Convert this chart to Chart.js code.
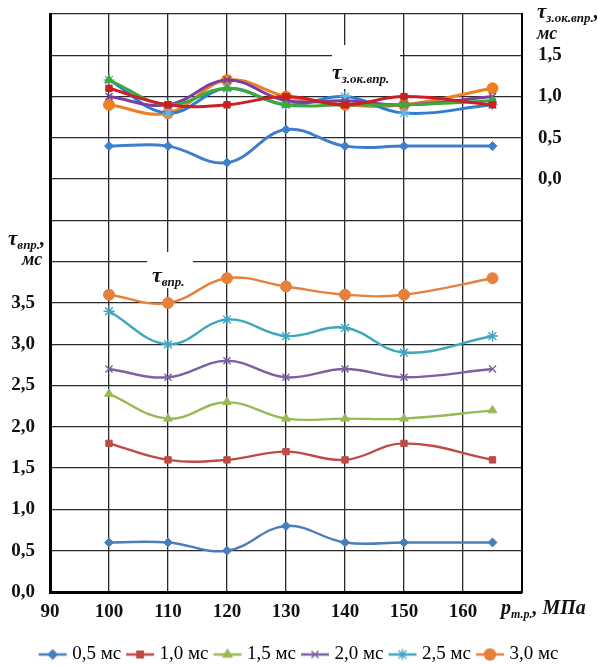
<!DOCTYPE html>
<html>
<head>
<meta charset="utf-8">
<script src="https://cdn.jsdelivr.net/npm/chart.js@4.4.1/dist/chart.umd.min.js"></script>
<style>
  html, body { margin: 0; padding: 0; background: #fff; }
  #wrap { width: 597px; height: 665px; position: relative; }
</style>
</head>
<body>
<div id="wrap"><canvas id="chart"></canvas></div>
<script>
/* ── Data ────────────────────────────────────────────────── */
const pressure    = [100, 110, 120, 130, 140, 150, 165];   // p т.р., МПа
const seriesNames = ['0,5 мс', '1,0 мс', '1,5 мс', '2,0 мс', '2,5 мс', '3,0 мс'];

/* τ впр. (lower panel, left axis) */
const vpr05 = [0.6, 0.6, 0.5, 0.8, 0.6, 0.6, 0.6];
const vpr10 = [1.8, 1.6, 1.6, 1.7, 1.6, 1.8, 1.6];
const vpr15 = [2.4, 2.1, 2.3, 2.1, 2.1, 2.1, 2.2];
const vpr20 = [2.7, 2.6, 2.8, 2.6, 2.7, 2.6, 2.7];
const vpr25 = [3.4, 3.0, 3.3, 3.1, 3.2, 2.9, 3.1];
const vpr30 = [3.6, 3.5, 3.8, 3.7, 3.6, 3.6, 3.8];

/* τ з.ок.впр. (upper panel, right axis) */
const zok05 = [0.4, 0.4, 0.2, 0.6, 0.4, 0.4, 0.4];
const zok10 = [1.1, 0.9, 0.9, 1.0, 0.9, 1.0, 0.9];
const zok15 = [1.2, 0.9, 1.1, 0.9, 0.9, 0.9, 0.95];
const zok20 = [1.0, 0.9, 1.2, 0.95, 0.95, 0.9, 1.0];
const zok25 = [1.2, 0.8, 1.1, 0.9, 1.0, 0.8, 0.9];
const zok30 = [0.9, 0.8, 1.2, 1.0, 0.9, 0.9, 1.1];

const xTicks     = [90, 100, 110, 120, 130, 140, 150, 160];
const leftTicks  = [0, 0.5, 1.0, 1.5, 2.0, 2.5, 3.0, 3.5];
const rightTicks = [0, 0.5, 1.0, 1.5];

/* ── Styling ─────────────────────────────────────────────── */
const SERIF = '"Liberation Serif", "Times New Roman", serif';
const markers  = ['rectRot', 'rect', 'triangle', 'crossRot', 'star', 'circle'];
const radii    = [4.5, 4.5, 5, 5, 5.5, 5.5];
const lowColors  = ['#4A7EBB', '#BE4B48', '#98B954', '#7D60A0', '#3FA6BF', '#E5803D'];
const topColors  = ['#3F7ECB', '#CC1E24', '#3BAA3B', '#7A3FA2', '#2F7DD2', '#F07E22'];
const topMarkers = ['#3F7ECB', '#CC1E24', '#3BAA3B', '#7A3FA2', '#62B6E8', '#F07E22'];

const fmt = v => v.toFixed(1).replace('.', ',');
const pts = arr => pressure.map((x, i) => ({ x, y: arr[i] }));

const lowSeries = [vpr05, vpr10, vpr15, vpr20, vpr25, vpr30];
const topSeries = [zok05, zok10, zok15, zok20, zok25, zok30];

const datasets = [];
lowSeries.forEach((arr, i) => {
  datasets.push({
    label: seriesNames[i],
    data: pts(arr),
    yAxisID: 'y',
    borderColor: lowColors[i],
    backgroundColor: lowColors[i],
    borderWidth: 2.4,
    pointStyle: markers[i],
    pointRadius: radii[i],
    pointBorderWidth: (i === 3 || i === 4) ? 1.4 : 1,
    pointBackgroundColor: lowColors[i],
    pointBorderColor: lowColors[i],
    tension: 0.4
  });
});
topSeries.forEach((arr, i) => {
  datasets.push({
    label: 'top ' + seriesNames[i],
    data: pts(arr),
    yAxisID: 'y2',
    borderColor: topColors[i],
    backgroundColor: topMarkers[i],
    borderWidth: 3,
    pointStyle: markers[i],
    pointRadius: radii[i],
    pointBorderWidth: (i === 3 || i === 4) ? 1.4 : 1,
    pointBackgroundColor: topMarkers[i],
    pointBorderColor: topMarkers[i],
    tension: 0.4
  });
});

/* ── Legend icons: short line with the marker in the middle ── */
function legendIcon(i) {
  const c = document.createElement('canvas');
  c.width = 40; c.height = 14;
  const g = c.getContext('2d');
  g.strokeStyle = lowColors[i];
  g.lineWidth = 2.5;
  g.beginPath(); g.moveTo(8, 7); g.lineTo(36, 7); g.stroke();
  g.fillStyle = lowColors[i];
  g.lineWidth = 1.4;
  Chart.helpers.drawPoint(g, { pointStyle: markers[i], radius: radii[i], borderWidth: 1.4, rotation: 0 }, 22, 7);
  return c;
}
const icons = seriesNames.map((_, i) => legendIcon(i));

/* ── Text with subscript ─────────────────────────────────── */
function drawSub(ctx, x, y, main, sub, tail, big, small) {
  ctx.font = `italic bold ${big}px ${SERIF}`;
  ctx.fillText(main, x, y);
  let w = ctx.measureText(main).width;
  ctx.font = `italic bold ${small}px ${SERIF}`;
  ctx.fillText(sub, x + w, y + big * 0.2);
  w += ctx.measureText(sub).width;
  if (tail) {
    ctx.font = `italic bold ${big}px ${SERIF}`;
    ctx.fillText(tail, x + w, y);
    w += ctx.measureText(tail).width;
  }
  return w;
}

const labelsPlugin = {
  id: 'labels',
  beforeDatasetsDraw(chart) {
    const ctx = chart.ctx;
    ctx.save();
    ctx.fillStyle = '#fff';
    ctx.fillRect(332, 45, 68, 44);
    ctx.fillRect(147, 252, 46, 36);
    ctx.fillStyle = '#111';
    ctx.textBaseline = 'alphabetic';
    drawSub(ctx, 332, 79, 'τ', 'з.ок.впр.', '', 22, 13);
    drawSub(ctx, 152, 282, 'τ', 'впр.', '', 22, 13);
    ctx.restore();
  },
  afterDraw(chart) {
    const ctx = chart.ctx;
    ctx.save();
    ctx.fillStyle = '#111';
    ctx.textBaseline = 'alphabetic';
    // left axis title
    drawSub(ctx, 8, 245, 'τ', 'впр.', ',', 21, 13);
    ctx.font = `italic bold 18px ${SERIF}`;
    ctx.fillText('мс', 22, 265);
    // right axis title
    drawSub(ctx, 537, 18, 'τ', 'з.ок.впр.', ',', 21, 13);
    ctx.font = `italic bold 18px ${SERIF}`;
    ctx.fillText('мс', 537, 39);
    // x axis title
    drawSub(ctx, 501, 614, 'p', 'т.р.', ', МПа', 20, 12);
    ctx.restore();
  }
};

/* ── Chart ───────────────────────────────────────────────── */
const tickFont = { family: SERIF, size: 19, weight: 'bold' };

new Chart(document.getElementById('chart'), {
  type: 'line',
  data: { datasets },
  options: {
    responsive: true,
    maintainAspectRatio: false,
    animation: false,
    layout: { padding: { top: 14, bottom: -9, left: 0, right: 0 } },
    plugins: {
      legend: {
        position: 'bottom',
        labels: {
          usePointStyle: true,
          pointStyleWidth: 24,
          padding: 5,
          color: '#222',
          font: { family: SERIF, size: 19 },
          generateLabels: () => seriesNames.map((name, i) => ({
            text: name,
            pointStyle: icons[i],
            fillStyle: lowColors[i],
            strokeStyle: lowColors[i],
            lineWidth: 0,
            hidden: false,
            datasetIndex: i
          }))
        }
      },
      tooltip: { enabled: false }
    },
    scales: {
      x: {
        type: 'linear',
        min: 90, max: 170,
        afterBuildTicks: s => { s.ticks = xTicks.concat([170]).map(v => ({ value: v })); },
        ticks: {
          font: tickFont, color: '#111', padding: 9,
          maxRotation: 0,
          callback: v => xTicks.includes(v) ? String(v) : ''
        },
        grid: { color: '#2a2a2a', lineWidth: 1.3, drawTicks: false },
        border: { color: '#000', width: 3 },
        afterFit: s => { s.height = 48; }
      },
      y: {
        position: 'left',
        min: 0, max: 7,
        ticks: {
          stepSize: 0.5, font: tickFont, color: '#111', padding: 15,
          callback: v => leftTicks.includes(v) ? fmt(v) : ''
        },
        grid: { color: '#2a2a2a', lineWidth: 1.3, drawTicks: false },
        border: { color: '#000', width: 3 },
        afterFit: s => { s.width = 50; s.paddingTop = 0; s.paddingBottom = 0; }
      },
      y2: {
        position: 'right',
        min: -5, max: 2,
        ticks: {
          stepSize: 0.5, font: tickFont, color: '#111', padding: 16,
          callback: v => rightTicks.includes(v) ? fmt(v) : ''
        },
        grid: { drawOnChartArea: false, drawTicks: false },
        border: { color: '#000', width: 2 },
        afterFit: s => { s.width = 75; s.paddingTop = 0; s.paddingBottom = 0; }
      }
    }
  },
  plugins: [labelsPlugin]
});
</script>
</body>
</html>
